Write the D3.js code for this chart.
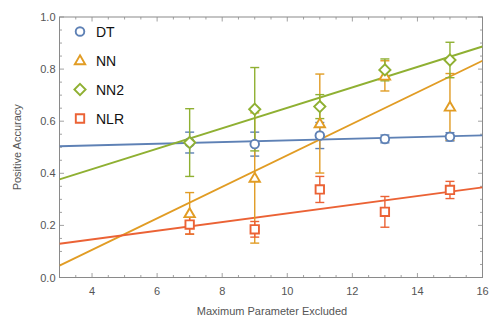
<!DOCTYPE html>
<html>
<head>
<meta charset="utf-8">
<script src="https://cdn.jsdelivr.net/npm/d3@7"></script>
<style>
  html, body { margin: 0; padding: 0; background: #fff; }
  svg { display: block; font-family: "Liberation Sans", Arial, sans-serif; }
</style>
</head>
<body>
<svg id="chart" width="492" height="320"></svg>
<script>
// ---- data ----
const xValues = [7, 9, 11, 13, 15];
const seriesNames = ["DT", "NN", "NN2", "NLR"];
const dtValues  = [0.518, 0.512, 0.545, 0.532, 0.540];
const dtErrors  = [0.040, 0.046, 0.050, 0.015, 0.016];
const nnValues  = [0.246, 0.382, 0.591, 0.774, 0.655];
const nnErrors  = [0.080, 0.250, 0.190, 0.058, 0.128];
const nn2Values = [0.518, 0.646, 0.656, 0.797, 0.835];
const nn2Errors = [0.130, 0.160, 0.046, 0.042, 0.068];
const nlrValues = [0.203, 0.185, 0.338, 0.252, 0.336];
const nlrErrors = [0.036, 0.030, 0.050, 0.059, 0.033];
const xTickLabels = [4, 6, 8, 10, 12, 14, 16];
const yTickLabels = [0.0, 0.2, 0.4, 0.6, 0.8, 1.0];
const xTitle = "Maximum Parameter Excluded";
const yTitle = "Positive Accuracy";

const colors = ["#5E81B5", "#E19C24", "#8FB032", "#EB6235"];
const shapes = ["circle", "triangle", "diamond", "square"];
const series = [
  { name: seriesNames[0], values: dtValues,  errors: dtErrors },
  { name: seriesNames[1], values: nnValues,  errors: nnErrors },
  { name: seriesNames[2], values: nn2Values, errors: nn2Errors },
  { name: seriesNames[3], values: nlrValues, errors: nlrErrors }
];

// ---- layout ----
const svg = d3.select("#chart");
const L = 59.5, R = 482.5, T = 17, B = 277.5;
const x = d3.scaleLinear().domain([3, 16]).range([L, R]);
const y = d3.scaleLinear().domain([0, 1]).range([B, T]);
const frameColor = "#8a8a8a";
const tickTextColor = "#555";

svg.append("defs").append("clipPath").attr("id", "clip")
  .append("rect").attr("x", L).attr("y", T).attr("width", R - L).attr("height", B - T);

// ticks
const g = svg.append("g");
const xMinor = d3.range(3, 16.001, 0.5);
const yMinor = d3.range(0, 1.0001, 0.05);
function isMajorX(v) { return Math.abs(v / 2 - Math.round(v / 2)) < 1e-6; }
function isMajorY(v) { return Math.abs(v / 0.2 - Math.round(v / 0.2)) < 1e-6; }
xMinor.forEach(v => {
  const len = isMajorX(v) ? 4.5 : 2.5;
  g.append("line").attr("x1", x(v)).attr("x2", x(v)).attr("y1", B).attr("y2", B - len)
    .attr("stroke", frameColor).attr("stroke-width", 0.8);
  g.append("line").attr("x1", x(v)).attr("x2", x(v)).attr("y1", T).attr("y2", T + len)
    .attr("stroke", frameColor).attr("stroke-width", 0.8);
});
yMinor.forEach(v => {
  const len = isMajorY(v) ? 4.5 : 2.5;
  g.append("line").attr("x1", L).attr("x2", L + len).attr("y1", y(v)).attr("y2", y(v))
    .attr("stroke", frameColor).attr("stroke-width", 0.8);
  g.append("line").attr("x1", R).attr("x2", R - len).attr("y1", y(v)).attr("y2", y(v))
    .attr("stroke", frameColor).attr("stroke-width", 0.8);
});

// frame
svg.append("rect").attr("x", L).attr("y", T).attr("width", R - L).attr("height", B - T)
  .attr("fill", "none").attr("stroke", frameColor).attr("stroke-width", 1);

// tick labels
svg.append("g").selectAll("text").data(xTickLabels).join("text")
  .attr("x", d => x(d)).attr("y", B + 17)
  .attr("text-anchor", "middle").attr("font-size", 11).attr("fill", tickTextColor)
  .text(d => d);
svg.append("g").selectAll("text").data(yTickLabels).join("text")
  .attr("x", L - 4).attr("y", d => y(d) + 4)
  .attr("text-anchor", "end").attr("font-size", 11).attr("fill", tickTextColor)
  .text(d => d.toFixed(1));

// axis titles
svg.append("text").attr("x", (L + R) / 2 + 1).attr("y", 315)
  .attr("text-anchor", "middle").attr("font-size", 11).attr("fill", tickTextColor)
  .text(xTitle);
svg.append("text").attr("transform", `translate(21,${(T + B) / 2}) rotate(-90)`)
  .attr("text-anchor", "middle").attr("font-size", 11).attr("fill", tickTextColor)
  .text(yTitle);

// fit lines (least squares)
function fit(xs, ys) {
  const mx = d3.mean(xs), my = d3.mean(ys);
  let sxy = 0, sxx = 0;
  xs.forEach((xv, i) => { sxy += (xv - mx) * (ys[i] - my); sxx += (xv - mx) ** 2; });
  const b = sxy / sxx;
  return v => my + b * (v - mx);
}
const plot = svg.append("g").attr("clip-path", "url(#clip)");
const lineGen = d3.line().x(d => x(d[0])).y(d => y(d[1]));
series.forEach((s, i) => {
  const f = fit(xValues, s.values);
  plot.append("path").datum([[3, f(3)], [16, f(16)]])
    .attr("d", lineGen).attr("fill", "none")
    .attr("stroke", colors[i]).attr("stroke-width", 1.9);
});

// error bars and markers
function markerPath(shape, cx, cy) {
  if (shape === "triangle") {
    const h = 5.2;
    return `M${cx},${cy - h} L${cx + h},${cy + h * 0.72} L${cx - h},${cy + h * 0.72} Z`;
  }
  if (shape === "diamond") {
    const d = 5.6;
    return `M${cx},${cy - d} L${cx + d},${cy} L${cx},${cy + d} L${cx - d},${cy} Z`;
  }
  if (shape === "square") {
    const h = 4.2;
    return `M${cx - h},${cy - h} H${cx + h} V${cy + h} H${cx - h} Z`;
  }
  return null;
}
const capHalf = 4.5;
series.forEach((s, i) => {
  const eg = svg.append("g");
  xValues.forEach((xv, j) => {
    const v = s.values[j], e = s.errors[j];
    const px = x(xv);
    eg.append("line").attr("x1", px).attr("x2", px).attr("y1", y(v - e)).attr("y2", y(v + e))
      .attr("stroke", colors[i]).attr("stroke-width", 1.4);
    [v - e, v + e].forEach(ev => {
      eg.append("line").attr("x1", px - capHalf).attr("x2", px + capHalf)
        .attr("y1", y(ev)).attr("y2", y(ev))
        .attr("stroke", colors[i]).attr("stroke-width", 1.4);
    });
  });
});
function drawMarker(sel, shape, color, px, py) {
  if (shape === "circle") {
    sel.append("circle").attr("cx", px).attr("cy", py).attr("r", 4.3)
      .attr("fill", "#fff").attr("stroke", color).attr("stroke-width", 1.9);
  } else {
    sel.append("path").attr("d", markerPath(shape, px, py))
      .attr("fill", "#fff").attr("stroke", color).attr("stroke-width", 1.9);
  }
}
series.forEach((s, i) => {
  const mg = svg.append("g");
  xValues.forEach((xv, j) => drawMarker(mg, shapes[i], colors[i], x(xv), y(s.values[j])));
});

// legend
const legend = svg.append("g");
series.forEach((s, i) => {
  const ly = 31.5 + i * 29, lx = 80;
  drawMarker(legend, shapes[i], colors[i], lx, ly);
  legend.append("text").attr("x", 96).attr("y", ly + 5)
    .attr("font-size", 14).attr("fill", "#111").text(s.name);
});
</script>
</body>
</html>
